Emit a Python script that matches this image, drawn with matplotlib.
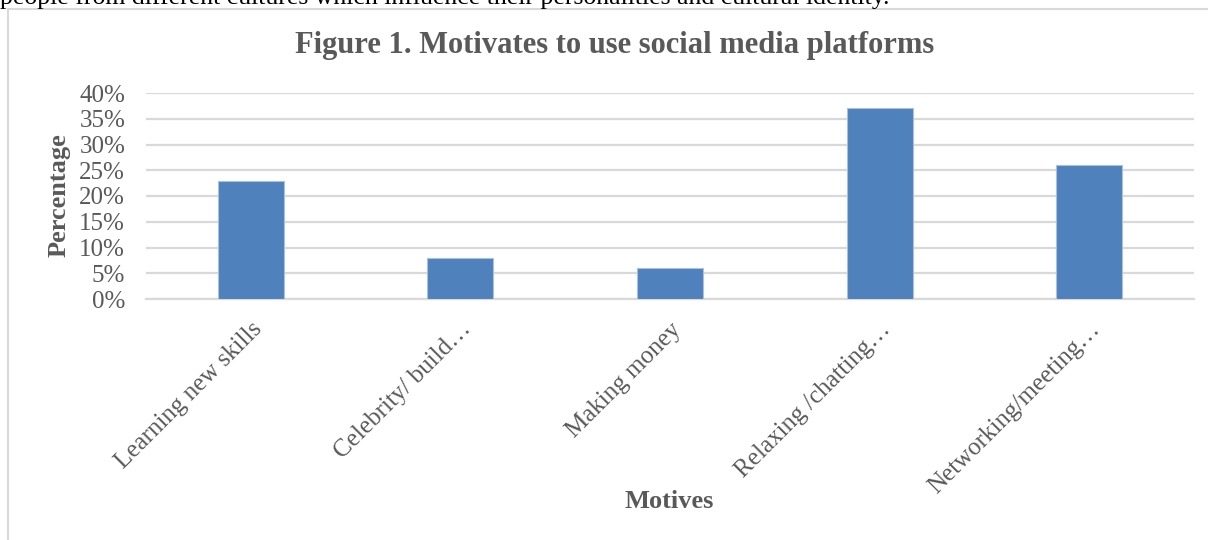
import matplotlib
matplotlib.use("Agg")
import matplotlib.pyplot as plt
from matplotlib.patches import Rectangle
from matplotlib.ticker import FuncFormatter, MultipleLocator

# motives and share of respondents (%)
motives = [
    "Learning new skills",
    "Celebrity/ build…",
    "Making money",
    "Relaxing /chatting…",
    "Networking/meeting…",
]
shares = [23, 8, 6, 37, 26]

TEXT_GREY = "#595959"
BAR_BLUE = "#4f81bd"
GRID_GREY = "#d9d9d9"

plt.rcParams["font.family"] = ["Liberation Serif", "DejaVu Serif"]

fig = plt.figure(figsize=(12.08, 5.4), dpi=100)
W, H = 1208, 540

# running text of the page above the chart, cut by the page edge
fig.text(0, 1 - 4 / H, "people from different cultures which influence their personalities and cultural identity.",
         fontsize=18.5, color="black", ha="left", va="baseline")

# chart frame
fig.patches.append(Rectangle((8 / W, -0.1), 1.2, 1 - 9 / H + 0.1, transform=fig.transFigure,
                             fill=False, edgecolor="#d9d9d9", linewidth=1.5))

ax = fig.add_axes([146 / W, 1 - 299 / H, (1194 - 146) / W, (299 - 93) / H])
x = range(len(motives))
ax.bar(x, shares, width=0.315, color=BAR_BLUE, edgecolor="#a9c0de", linewidth=0.8, zorder=3)

ax.set_xlim(-0.5, len(motives) - 0.5)
ax.set_ylim(0, 40)
ax.yaxis.set_major_locator(MultipleLocator(5))
ax.yaxis.set_major_formatter(FuncFormatter(lambda v, _: f"{v:.0f}%"))
ax.grid(axis="y", color=GRID_GREY, linewidth=1.6, zorder=0)
ax.set_axisbelow(True)
for side in ("top", "right", "left"):
    ax.spines[side].set_visible(False)
ax.spines["bottom"].set_color(GRID_GREY)
ax.spines["bottom"].set_linewidth(1.6)

ax.tick_params(axis="both", length=0, labelsize=18, labelcolor=TEXT_GREY)
ax.tick_params(axis="y", pad=15)
ax.set_xticks(list(x))
ax.set_xticklabels(motives, rotation=45, ha="right", va="top", rotation_mode="anchor")
ax.tick_params(axis="x", pad=14)

ax.set_ylabel("Percentage", fontsize=19, fontweight="bold", color=TEXT_GREY)
ax.yaxis.set_label_coords((71 - 146) / 1048, 0.505)
fig.text(669 / W, 1 - 502 / H, "Motives", fontsize=19, fontweight="bold", color=TEXT_GREY,
         ha="center", va="center")
fig.text(615 / W, 1 - 46 / H, "Figure 1. Motivates to use social media platforms", fontsize=22,
         fontweight="bold", color=TEXT_GREY, ha="center", va="center")

fig.savefig("out.png", dpi=100)
